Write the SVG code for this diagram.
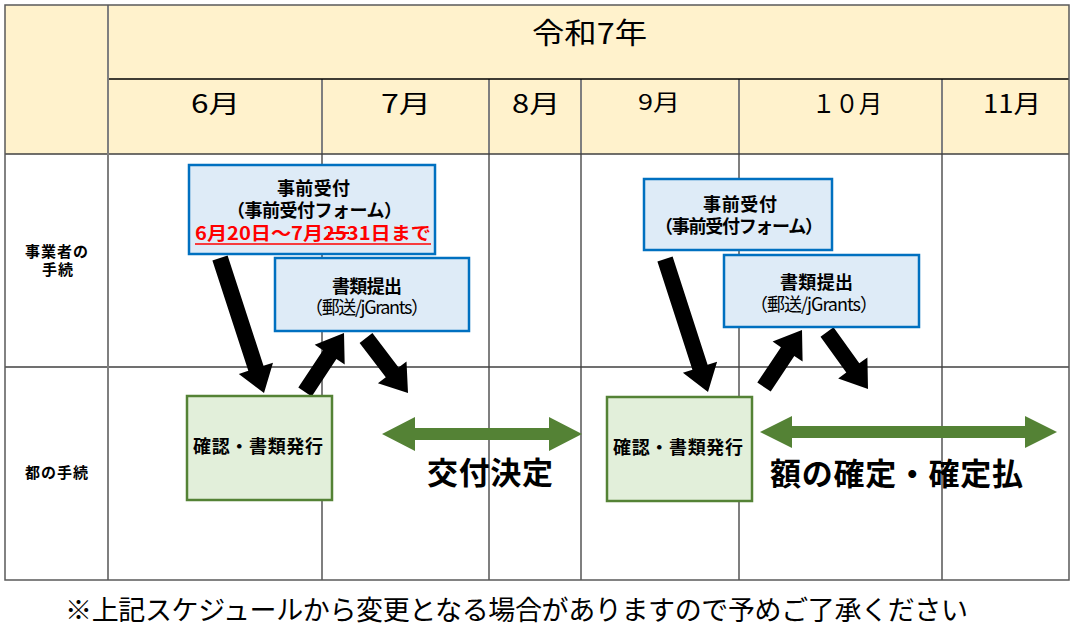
<svg xmlns="http://www.w3.org/2000/svg" width="1075" height="632" viewBox="0 0 1075 632">
<style>
text{font-family:"Noto Sans CJK JP","Noto Sans",sans-serif;fill:#000}
.b{font-weight:bold}
.hdr{font-size:25px}
.lbl{font-size:15px;font-weight:bold}
.bx{font-size:18px}
.big{font-size:31px;font-weight:bold}
.blue{fill:#DEEBF7;stroke:#0070C0;stroke-width:2.5}
.green{fill:#E2EFDA;stroke:#548235;stroke-width:2.5}
.vl{stroke:#7F7F7F;stroke-width:2}
.hl{stroke:#404040;stroke-width:1.5}
.blk{fill:#000}
.garr{fill:#548235}
</style>
<rect x="0" y="0" width="1075" height="632" fill="#fff"/>
<g id="table">
<rect x="5" y="5" width="1064" height="149" fill="#FFF2CC"/>
<line class="vl" x1="322" y1="79" x2="322" y2="580"/>
<line class="vl" x1="489" y1="79" x2="489" y2="580"/>
<line class="vl" x1="581" y1="79" x2="581" y2="580"/>
<line class="vl" x1="739" y1="79" x2="739" y2="580"/>
<line class="vl" x1="942" y1="79" x2="942" y2="580"/>
<line x1="108" y1="79" x2="1069" y2="79" stroke="#000" stroke-width="1.5"/>
<line class="hl" x1="5" y1="154" x2="1069" y2="154"/>
<line class="hl" x1="5" y1="367" x2="1069" y2="367"/>
<line class="vl" x1="108" y1="5" x2="108" y2="580" stroke="#595959"/>
<rect x="5" y="5" width="1064" height="575" fill="none" stroke="#595959" stroke-width="1.5"/>
<text x="532" y="44" font-size="29" textLength="115" lengthAdjust="spacingAndGlyphs">令和7年</text>
<text class="hdr" x="191" y="113" textLength="49" lengthAdjust="spacingAndGlyphs">6月</text>
<text class="hdr" x="381" y="113" textLength="50" lengthAdjust="spacingAndGlyphs">7月</text>
<text class="hdr" x="512" y="113" textLength="48" lengthAdjust="spacingAndGlyphs">8月</text>
<text x="638" y="110" font-size="22" textLength="42" lengthAdjust="spacingAndGlyphs">9月</text>
<text class="hdr" x="812" y="113" textLength="70" lengthAdjust="spacingAndGlyphs">１０月</text>
<text class="hdr" x="983" y="113" textLength="58" lengthAdjust="spacingAndGlyphs">11月</text>
<text class="lbl" x="25" y="257" textLength="63">事業者の</text>
<text class="lbl" x="42" y="275" textLength="31">手続</text>
<text class="lbl" x="25" y="478" textLength="63">都の手続</text>
</g>
<g id="connectors">
<polygon class="blk" points="212.4,260.5 248.3,370.8 238.8,373.9 264,393 273.0,362.7 263.5,365.8 227.6,255.5"/>
<polygon class="blk" points="311.7,396.4 336.4,359.1 344.7,364.6 344,333 314.7,344.8 323.0,350.3 298.3,387.6"/>
<polygon class="blk" points="359.6,342.9 385.8,377.2 377.9,383.2 408,393 406.5,361.4 398.6,367.4 372.4,333.1"/>
<polygon class="blk" points="657.4,261.5 692.4,369.8 682.9,372.8 708,392 717.1,361.8 707.6,364.8 672.6,256.5"/>
<polygon class="blk" points="770.7,391.4 794.3,356.0 802.6,361.6 802,330 772.6,341.6 780.9,347.2 757.3,382.6"/>
<polygon class="blk" points="820.5,336.7 846.3,372.6 838.2,378.4 868,389 867.4,357.4 859.3,363.2 833.5,327.3"/>
<polygon class="garr" points="382,434 415,417 415,428 549,428 549,417 582,434 549,451 549,440 415,440 415,451"/>
<polygon class="garr" points="760,432 792,416 792,426 1025,426 1025,416 1057,432 1025,448 1025,438 792,438 792,448"/>
</g>
<g id="node-jizen1">
<rect class="blue" x="189" y="165" width="246" height="89"/>
<text class="bx b" x="277" y="195" textLength="73">事前受付</text>
<text class="bx b" x="227" y="217" textLength="175">（事前受付フォーム）</text>
<text class="bx b" x="195" y="240" textLength="236" lengthAdjust="spacingAndGlyphs" style="fill:#FF0000">6月20日～7月2531日まで</text>
<line x1="195" y1="244" x2="431" y2="244" stroke="#FF0000" stroke-width="1.5"/>
<line x1="328" y1="233" x2="349" y2="233" stroke="#FF0000" stroke-width="2"/>
</g>
<g id="node-shorui1">
<rect class="blue" x="275" y="258" width="194" height="73"/>
<text class="bx b" x="332" y="293" textLength="70">書類提出</text>
<text class="bx" x="305" y="314" textLength="124">（郵送/jGrants）</text>
</g>
<g id="node-jizen2">
<rect class="blue" x="644" y="179" width="188" height="71"/>
<text class="bx b" x="703" y="211" textLength="74">事前受付</text>
<text class="bx b" x="655" y="233" textLength="168">（事前受付フォーム）</text>
</g>
<g id="node-shorui2">
<rect class="blue" x="724" y="255" width="195" height="72"/>
<text class="bx b" x="780" y="289" textLength="73">書類提出</text>
<text class="bx" x="750" y="311" textLength="128">（郵送/jGrants）</text>
</g>
<g id="node-kakunin1">
<rect class="green" x="187" y="396" width="145" height="104"/>
<text class="bx b" x="193" y="453" textLength="130">確認・書類発行</text>
</g>
<g id="node-kakunin2">
<rect class="green" x="607" y="397" width="145" height="104"/>
<text class="bx b" x="613" y="454" textLength="130">確認・書類発行</text>
</g>
<g id="label-kofu">
<text class="big" x="427" y="484" textLength="126">交付決定</text>
</g>
<g id="label-kakutei">
<text class="big" x="770" y="485" textLength="253">額の確定・確定払</text>
</g>
<g id="footnote">
<text x="65" y="620" font-size="27" textLength="903">※上記スケジュールから変更となる場合がありますので予めご了承ください</text>
</g>
</svg>
